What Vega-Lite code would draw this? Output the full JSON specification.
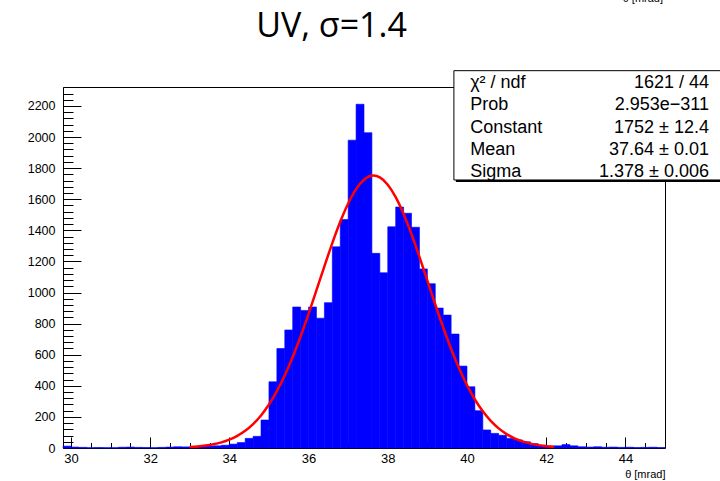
{
  "$schema": "https://vega.github.io/schema/vega-lite/v6.json",
  "width": 602,
  "height": 361,
  "autosize": "none",
  "padding": {"left": 63, "top": 87, "right": 55, "bottom": 33},
  "background": "white",
  "config": {
    "view": {"stroke": "#000", "strokeWidth": 1},
    "axis": {"grid": false, "domain": false, "labelFont": "Liberation Sans", "titleFont": "Liberation Sans", "labelColor": "#000", "titleColor": "#000", "tickColor": "#000", "zindex": 1, "labelFlush": false}
  },
  "datasets": {
    "hist": [
      {"lo": 29.8, "hi": 30.0, "count": 12}, {"lo": 30.0, "hi": 30.2, "count": 6}, {"lo": 30.2, "hi": 30.4, "count": 4}, {"lo": 30.4, "hi": 30.6, "count": 2},
      {"lo": 30.6, "hi": 30.8, "count": 3}, {"lo": 30.8, "hi": 31.0, "count": 2}, {"lo": 31.0, "hi": 31.2, "count": 2}, {"lo": 31.2, "hi": 31.4, "count": 5},
      {"lo": 31.4, "hi": 31.6, "count": 6}, {"lo": 31.6, "hi": 31.8, "count": 4}, {"lo": 31.8, "hi": 32.0, "count": 3}, {"lo": 32.0, "hi": 32.2, "count": 2},
      {"lo": 32.2, "hi": 32.4, "count": 4}, {"lo": 32.4, "hi": 32.6, "count": 6}, {"lo": 32.6, "hi": 32.8, "count": 8}, {"lo": 32.8, "hi": 33.0, "count": 7},
      {"lo": 33.0, "hi": 33.2, "count": 8}, {"lo": 33.2, "hi": 33.4, "count": 10}, {"lo": 33.4, "hi": 33.6, "count": 12}, {"lo": 33.6, "hi": 33.8, "count": 14},
      {"lo": 33.8, "hi": 34.0, "count": 18}, {"lo": 34.0, "hi": 34.2, "count": 25}, {"lo": 34.2, "hi": 34.4, "count": 35}, {"lo": 34.4, "hi": 34.6, "count": 62},
      {"lo": 34.6, "hi": 34.8, "count": 75}, {"lo": 34.8, "hi": 35.0, "count": 180}, {"lo": 35.0, "hi": 35.2, "count": 426}, {"lo": 35.2, "hi": 35.4, "count": 640},
      {"lo": 35.4, "hi": 35.6, "count": 759}, {"lo": 35.6, "hi": 35.8, "count": 907}, {"lo": 35.8, "hi": 36.0, "count": 885}, {"lo": 36.0, "hi": 36.2, "count": 907},
      {"lo": 36.2, "hi": 36.4, "count": 835}, {"lo": 36.4, "hi": 36.6, "count": 935}, {"lo": 36.6, "hi": 36.8, "count": 1294}, {"lo": 36.8, "hi": 37.0, "count": 1470},
      {"lo": 37.0, "hi": 37.2, "count": 1980}, {"lo": 37.2, "hi": 37.4, "count": 2211}, {"lo": 37.4, "hi": 37.6, "count": 2028}, {"lo": 37.6, "hi": 37.8, "count": 1252},
      {"lo": 37.8, "hi": 38.0, "count": 1127}, {"lo": 38.0, "hi": 38.2, "count": 1423}, {"lo": 38.2, "hi": 38.4, "count": 1550}, {"lo": 38.4, "hi": 38.6, "count": 1510},
      {"lo": 38.6, "hi": 38.8, "count": 1420}, {"lo": 38.8, "hi": 39.0, "count": 1152}, {"lo": 39.0, "hi": 39.2, "count": 1057}, {"lo": 39.2, "hi": 39.4, "count": 900},
      {"lo": 39.4, "hi": 39.6, "count": 855}, {"lo": 39.6, "hi": 39.8, "count": 733}, {"lo": 39.8, "hi": 40.0, "count": 527}, {"lo": 40.0, "hi": 40.2, "count": 394},
      {"lo": 40.2, "hi": 40.4, "count": 240}, {"lo": 40.4, "hi": 40.6, "count": 116}, {"lo": 40.6, "hi": 40.8, "count": 94}, {"lo": 40.8, "hi": 41.0, "count": 82},
      {"lo": 41.0, "hi": 41.2, "count": 62}, {"lo": 41.2, "hi": 41.4, "count": 52}, {"lo": 41.4, "hi": 41.6, "count": 40}, {"lo": 41.6, "hi": 41.8, "count": 28},
      {"lo": 41.8, "hi": 42.0, "count": 18}, {"lo": 42.0, "hi": 42.2, "count": 12}, {"lo": 42.2, "hi": 42.4, "count": 14}, {"lo": 42.4, "hi": 42.6, "count": 22},
      {"lo": 42.6, "hi": 42.8, "count": 14}, {"lo": 42.8, "hi": 43.0, "count": 8}, {"lo": 43.0, "hi": 43.2, "count": 6}, {"lo": 43.2, "hi": 43.4, "count": 8},
      {"lo": 43.4, "hi": 43.6, "count": 5}, {"lo": 43.6, "hi": 43.8, "count": 6}, {"lo": 43.8, "hi": 44.0, "count": 4}, {"lo": 44.0, "hi": 44.2, "count": 5},
      {"lo": 44.2, "hi": 44.4, "count": 3}, {"lo": 44.4, "hi": 44.6, "count": 4}, {"lo": 44.6, "hi": 44.8, "count": 5}, {"lo": 44.8, "hi": 45.0, "count": 3}
    ],
    "fit": [
      {"theta": 33.0, "g": 6.0}, {"theta": 33.2, "g": 9.7}, {"theta": 33.4, "g": 15.4}, {"theta": 33.6, "g": 23.8}, {"theta": 33.8, "g": 36.1},
      {"theta": 34.0, "g": 53.5}, {"theta": 34.2, "g": 77.7}, {"theta": 34.4, "g": 110.4}, {"theta": 34.6, "g": 153.7}, {"theta": 34.8, "g": 209.4},
      {"theta": 35.0, "g": 279.6}, {"theta": 35.2, "g": 365.3}, {"theta": 35.4, "g": 467.5}, {"theta": 35.6, "g": 585.7}, {"theta": 35.8, "g": 718.3},
      {"theta": 36.0, "g": 862.9}, {"theta": 36.2, "g": 1014.9}, {"theta": 36.4, "g": 1168.8}, {"theta": 36.6, "g": 1317.9}, {"theta": 36.8, "g": 1454.9},
      {"theta": 37.0, "g": 1572.8}, {"theta": 37.2, "g": 1665.0}, {"theta": 37.4, "g": 1725.5}, {"theta": 37.64, "g": 1752.0}, {"theta": 37.8, "g": 1740.2},
      {"theta": 38.0, "g": 1693.2}, {"theta": 38.2, "g": 1613.1}, {"theta": 38.4, "g": 1504.8}, {"theta": 38.6, "g": 1374.5}, {"theta": 38.8, "g": 1229.4},
      {"theta": 39.0, "g": 1076.4}, {"theta": 39.2, "g": 923.1}, {"theta": 39.4, "g": 775.0}, {"theta": 39.6, "g": 637.0}, {"theta": 39.8, "g": 512.8},
      {"theta": 40.0, "g": 404.2}, {"theta": 40.2, "g": 311.9}, {"theta": 40.4, "g": 235.7}, {"theta": 40.6, "g": 174.4}, {"theta": 40.8, "g": 126.4},
      {"theta": 41.0, "g": 89.6}, {"theta": 41.2, "g": 62.3}, {"theta": 41.4, "g": 42.3}, {"theta": 41.6, "g": 28.2}, {"theta": 41.8, "g": 18.4},
      {"theta": 42.0, "g": 11.7}, {"theta": 42.2, "g": 7.3}
    ],
    "stats": [
      {"label": "χ² / ndf", "value": "1621 / 44"},
      {"label": "Prob", "value": "2.953e−311"},
      {"label": "Constant", "value": "1752 ± 12.4"},
      {"label": "Mean", "value": "37.64 ± 0.01"},
      {"label": "Sigma", "value": "1.378 ± 0.006"}
    ],
    "one": [{"title": "UV, σ=1.4", "cut": "θ [mrad]"}]
  },
  "resolve": {"scale": {"y": "independent"}},
  "layer": [
    {
      "resolve": {"axis": {"x": "independent", "y": "independent"}},
      "layer": [
        {
          "data": {"name": "hist"},
          "mark": {"type": "bar", "fill": "#0000ff", "stroke": "#0000ff", "strokeWidth": 0.6},
          "encoding": {
            "x": {"field": "lo", "type": "quantitative", "scale": {"domain": [29.8, 45], "nice": false, "zero": false},
              "axis": {"orient": "bottom", "values": [30, 32, 34, 36, 38, 40, 42, 44], "format": "d", "offset": -11, "tickSize": 11, "tickWidth": 1, "labelFontSize": 13, "labelPadding": 4,
                "title": "θ [mrad]", "titleAnchor": "end", "titleFontSize": 11, "titleFontWeight": "normal", "titlePadding": 3}},
            "x2": {"field": "hi"},
            "y": {"field": "count", "type": "quantitative", "stack": null, "scale": {"domain": [0, 2322], "nice": false},
              "axis": {"orient": "left", "values": [0, 200, 400, 600, 800, 1000, 1200, 1400, 1600, 1800, 2000, 2200], "format": "d", "offset": -18, "tickSize": 18, "tickWidth": 1, "labelFontSize": 12.5, "labelPadding": 8, "title": null}},
            "y2": {"datum": 0}
          }
        },
        {
          "data": {"name": "fit"},
          "mark": {"type": "line", "color": "#ff0000", "strokeWidth": 2.5, "interpolate": "monotone"},
          "encoding": {
            "x": {"field": "theta", "type": "quantitative", "scale": {"domain": [29.8, 45], "nice": false, "zero": false},
              "axis": {"orient": "bottom", "values": [30, 30.5, 31, 31.5, 32, 32.5, 33, 33.5, 34, 34.5, 35, 35.5, 36, 36.5, 37, 37.5, 38, 38.5, 39, 39.5, 40, 40.5, 41, 41.5, 42, 42.5, 43, 43.5, 44, 44.5], "offset": -5.5, "tickSize": 5.5, "tickWidth": 1, "labels": false, "title": null}},
            "y": {"field": "g", "type": "quantitative", "scale": {"domain": [0, 2322], "nice": false},
              "axis": {"orient": "left", "values": [0, 40, 80, 120, 160, 240, 280, 320, 360, 440, 480, 520, 560, 640, 680, 720, 760, 840, 880, 920, 960, 1040, 1080, 1120, 1160, 1240, 1280, 1320, 1360, 1440, 1480, 1520, 1560, 1640, 1680, 1720, 1760, 1840, 1880, 1920, 1960, 2040, 2080, 2120, 2160, 2240, 2280, 2320], "offset": -10, "tickSize": 10, "tickWidth": 1, "labels": false, "title": null}}
          }
        }
      ]
    },
    {
      "data": {"name": "one"},
      "layer": [
        {
          "mark": {"type": "rect", "color": "#000", "clip": false},
          "encoding": {
            "x": {"datum": 39.72, "type": "quantitative", "scale": {"domain": [29.8, 45], "nice": false, "zero": false}, "axis": null},
            "x2": {"datum": 47},
            "y": {"datum": 2414, "type": "quantitative", "scale": {"domain": [0, 2322], "nice": false}, "axis": null},
            "y2": {"datum": 1711}
          }
        },
        {
          "mark": {"type": "rect", "fill": "#fff", "stroke": "#000", "strokeWidth": 1, "clip": false},
          "encoding": {
            "x": {"datum": 39.67, "type": "quantitative", "axis": null},
            "x2": {"datum": 47},
            "y": {"datum": 2427, "type": "quantitative", "axis": null},
            "y2": {"datum": 1724}
          }
        },
        {
          "mark": {"type": "text", "font": "Liberation Sans", "fontSize": 11, "align": "right", "baseline": "alphabetic", "color": "#000", "clip": false},
          "encoding": {
            "x": {"datum": 44.95, "type": "quantitative", "axis": null},
            "y": {"datum": 2869, "type": "quantitative", "axis": null},
            "text": {"field": "cut"}
          }
        },
        {
          "mark": {"type": "text", "font": "Open Sans", "fontSize": 34, "align": "center", "baseline": "alphabetic", "color": "#000", "clip": false},
          "encoding": {
            "x": {"datum": 36.58, "type": "quantitative", "axis": null},
            "y": {"datum": 2644, "type": "quantitative", "axis": null},
            "text": {"field": "title"}
          }
        }
      ]
    },
    {
      "data": {"name": "stats"},
      "encoding": {
        "y": {"field": "label", "type": "nominal", "scale": {"type": "point", "domain": ["χ² / ndf", "Prob", "Constant", "Mean", "Sigma"], "range": [1, 90], "padding": 0}, "axis": null}
      },
      "layer": [
        {
          "mark": {"type": "text", "font": "Liberation Sans", "fontSize": 18, "align": "left", "baseline": "alphabetic", "color": "#000", "clip": false},
          "encoding": {
            "x": {"datum": 40.08, "type": "quantitative", "scale": {"domain": [29.8, 45], "nice": false, "zero": false}, "axis": null},
            "text": {"field": "label"}
          }
        },
        {
          "mark": {"type": "text", "font": "Liberation Sans", "fontSize": 18, "align": "right", "baseline": "alphabetic", "color": "#000", "clip": false},
          "encoding": {
            "x": {"datum": 46.11, "type": "quantitative", "axis": null},
            "text": {"field": "value"}
          }
        }
      ]
    }
  ]
}
